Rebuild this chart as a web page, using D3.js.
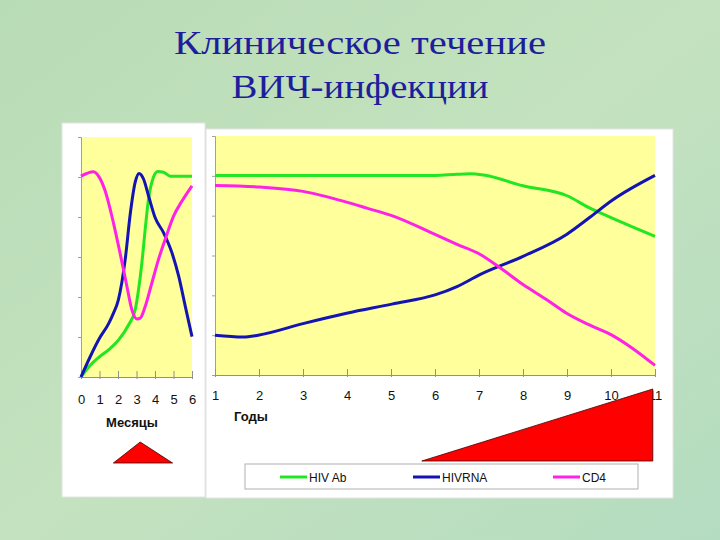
<!DOCTYPE html>
<html><head><meta charset="utf-8">
<script src="https://cdn.jsdelivr.net/npm/d3@7"></script>
<style>html,body{margin:0;padding:0;background:#bddfbb;}svg{display:block;}</style>
</head><body>
<svg id="c" width="720" height="540"></svg>
<script>
// ---- Data ----
const titleLines = ["Клиническое течение", "ВИЧ-инфекции"];
const seriesNames = ["HIV Ab", "HIVRNA", "CD4"];
const seriesColors = ["#22e622", "#1414b4", "#ff22e6"];

// Left panel: months 0..6
const monthTicks = [0,1,2,3,4,5,6];
const abMonthsX = [0,0.49,0.99,1.57,2.02,2.57,2.93,3.11,3.29,3.47,3.65,3.92,4.14,4.46,4.83,6];
const abMonthsY = [0,0.29,0.50,0.71,0.92,1.30,1.68,2.18,2.85,3.69,4.45,5.0,5.14,5.12,5.02,5.02];
const rnaMonthsX = [0,0.49,0.99,1.5,1.75,2.02,2.39,2.66,2.93,3.14,3.38,3.65,4.01,4.46,4.92,5.28,5.64,6];
const rnaMonthsY = [0,0.50,0.96,1.34,1.59,1.93,2.94,4.07,4.87,5.09,4.95,4.53,3.98,3.61,3.10,2.52,1.76,1.01];
const cd4MonthsX = [0,0.67,0.99,1.30,1.75,2.11,2.48,2.75,3.02,3.2,3.47,3.83,4.19,4.55,5.01,5.46,6];
const cd4MonthsY = [5.02,5.13,4.99,4.66,3.86,3.10,2.27,1.68,1.45,1.47,1.76,2.35,2.94,3.44,4.03,4.40,4.78];

// Right panel: years 1..11
const yearTicks = [1,2,3,4,5,6,7,8,9,10,11];
const abYearsX = [1,2,3,4,5,6,6.5,6.8,7.1,8,9,9.5,10,10.5,11];
const abYearsY = [5.01,5.01,5.01,5.01,5.01,5.01,5.04,5.05,5.02,4.75,4.5,4.2,3.95,3.71,3.48];
const rnaYearsX = [1,1.64,1.98,3,3.99,5.02,6,6.5,7.02,8,8.99,9.52,10.02,11];
const rnaYearsY = [1.0,0.955,1.0,1.29,1.55,1.78,2.01,2.22,2.52,2.98,3.53,3.96,4.38,5.01];
const cd4YearsX = [1,2.02,3,3.99,4.45,5.02,6,6.5,7.02,7.48,8,8.54,8.99,9.52,10.02,10.5,11];
const cd4YearsY = [4.76,4.72,4.61,4.34,4.19,4.0,3.53,3.28,3.03,2.69,2.27,1.89,1.55,1.25,1.0,0.66,0.24];

const yTicks = [0,1,2,3,4,5,6];
const leftAxisLabel = "Месяцы";
const rightAxisLabel = "Годы";
const leftStage = [1.75, 3.2, 4.95];   // months: base start, apex, base end
const rightStage = [5.7, 10.95];       // years: start, end

// ---- Drawing ----
const svg = d3.select("#c");
const defs = svg.append("defs");
const g = defs.append("linearGradient").attr("id","bg").attr("x1","0").attr("y1","0").attr("x2","1").attr("y2","1");
g.append("stop").attr("offset","0").attr("stop-color","#b8dcb6");
g.append("stop").attr("offset","0.5").attr("stop-color","#c4e2bf");
g.append("stop").attr("offset","1").attr("stop-color","#b4dcc0");
svg.append("rect").attr("width",720).attr("height",540).attr("fill","url(#bg)");

// Title
const titleW = [372, 257];
svg.append("g").selectAll("text").data(titleLines).join("text")
  .attr("x",360).attr("y",(d,i)=>54+i*44).attr("text-anchor","middle")
  .attr("font-family","'Liberation Serif','Times New Roman',serif").attr("font-size",34)
  .attr("textLength",(d,i)=>titleW[i]).attr("lengthAdjust","spacingAndGlyphs")
  .attr("fill","#1e1e9c").text(d=>d);

// Panels
svg.append("rect").attr("x",62).attr("y",123).attr("width",143).attr("height",374).attr("fill","#fff").attr("stroke","#e4e4e4");
svg.append("rect").attr("x",206).attr("y",129).attr("width",467).attr("height",369).attr("fill","#fff").attr("stroke","#e4e4e4");

const names = seriesNames;
function panel(opts){
  const {x0,x1,y0,y1,dom,ticks,series,pad} = opts;
  const x = d3.scaleLinear().domain(dom).range([x0,x1]);
  const y = d3.scaleLinear().domain([0,6]).range([y1,y0]);
  svg.append("rect").attr("x",x0).attr("y",y0).attr("width",x1-x0).attr("height",y1-y0).attr("fill","#ffff9c");
  const ya = svg.append("g").attr("transform",`translate(${x0},0)`)
    .call(d3.axisLeft(y).tickValues(yTicks).tickSize(3).tickFormat(""));
  ya.selectAll("path,line").attr("stroke","#a0a0a0");
  const xa = svg.append("g").attr("transform",`translate(0,${y1})`)
    .call(d3.axisBottom(x).tickValues(ticks).tickFormat(d3.format("d")).tickSizeInner(4).tickSizeOuter(0).tickPadding(pad));
  xa.selectAll("path,line").attr("stroke","#909090");
  xa.selectAll(".tick line").attr("y1",-6).attr("y2",2);
  xa.selectAll("text").attr("font-family","'Liberation Sans',Arial,sans-serif").attr("font-size",13).attr("fill","#111");
  const line = d3.line().x(d=>x(d[0])).y(d=>y(d[1])).curve(d3.curveMonotoneX);
  series.forEach((s,i)=>{
    const pts = s[0].map((v,j)=>[v,s[1][j]]);
    svg.append("path").attr("d",line(pts)).attr("fill","none")
      .attr("stroke",seriesColors[i]).attr("stroke-width",3).attr("stroke-linejoin","round");
  });
  return x;
}

const xm = panel({x0:81,x1:192,y0:137,y1:377,dom:[0,6],ticks:monthTicks,pad:14,
  series:[[abMonthsX,abMonthsY],[rnaMonthsX,rnaMonthsY],[cd4MonthsX,cd4MonthsY]]});
const xy = panel({x0:215,x1:655,y0:136,y1:375,dom:[1,11],ticks:yearTicks,pad:12,
  series:[[abYearsX,abYearsY],[rnaYearsX,rnaYearsY],[cd4YearsX,cd4YearsY]]});

// Axis labels
svg.append("text").attr("x",132).attr("y",427).attr("text-anchor","middle")
  .attr("font-family","'Liberation Sans',Arial,sans-serif").attr("font-weight","bold").attr("font-size",13).attr("fill","#111").text(leftAxisLabel);
svg.append("text").attr("x",234).attr("y",421)
  .attr("font-family","'Liberation Sans',Arial,sans-serif").attr("font-weight","bold").attr("font-size",13).attr("fill","#111").text(rightAxisLabel);

// Stage triangles
svg.append("path").attr("d",`M${xm(leftStage[0])},463L${xm(leftStage[1])},442L${xm(leftStage[2])},463Z`)
  .attr("fill","#ff0000").attr("stroke","#400000").attr("stroke-width",0.8);
svg.append("path").attr("d",`M${xy(rightStage[0])},461L${xy(rightStage[1])},389L${xy(rightStage[1])},461Z`)
  .attr("fill","#ff0000").attr("stroke","#400000").attr("stroke-width",0.8);

// Legend
svg.append("rect").attr("x",245).attr("y",464).attr("width",393).attr("height",25).attr("fill","#fff").attr("stroke","#b0b0b0");
const lx = [280,413,553];
const lg = svg.append("g").selectAll("g").data(names).join("g").attr("transform",(d,i)=>`translate(${lx[i]},477)`);
lg.append("line").attr("x1",0).attr("x2",27).attr("stroke",(d,i)=>seriesColors[i]).attr("stroke-width",3);
lg.append("text").attr("x",29).attr("y",4.5).attr("font-family","'Liberation Sans',Arial,sans-serif").attr("font-size",12).attr("fill","#111").text(d=>d);
</script>
</body></html>
